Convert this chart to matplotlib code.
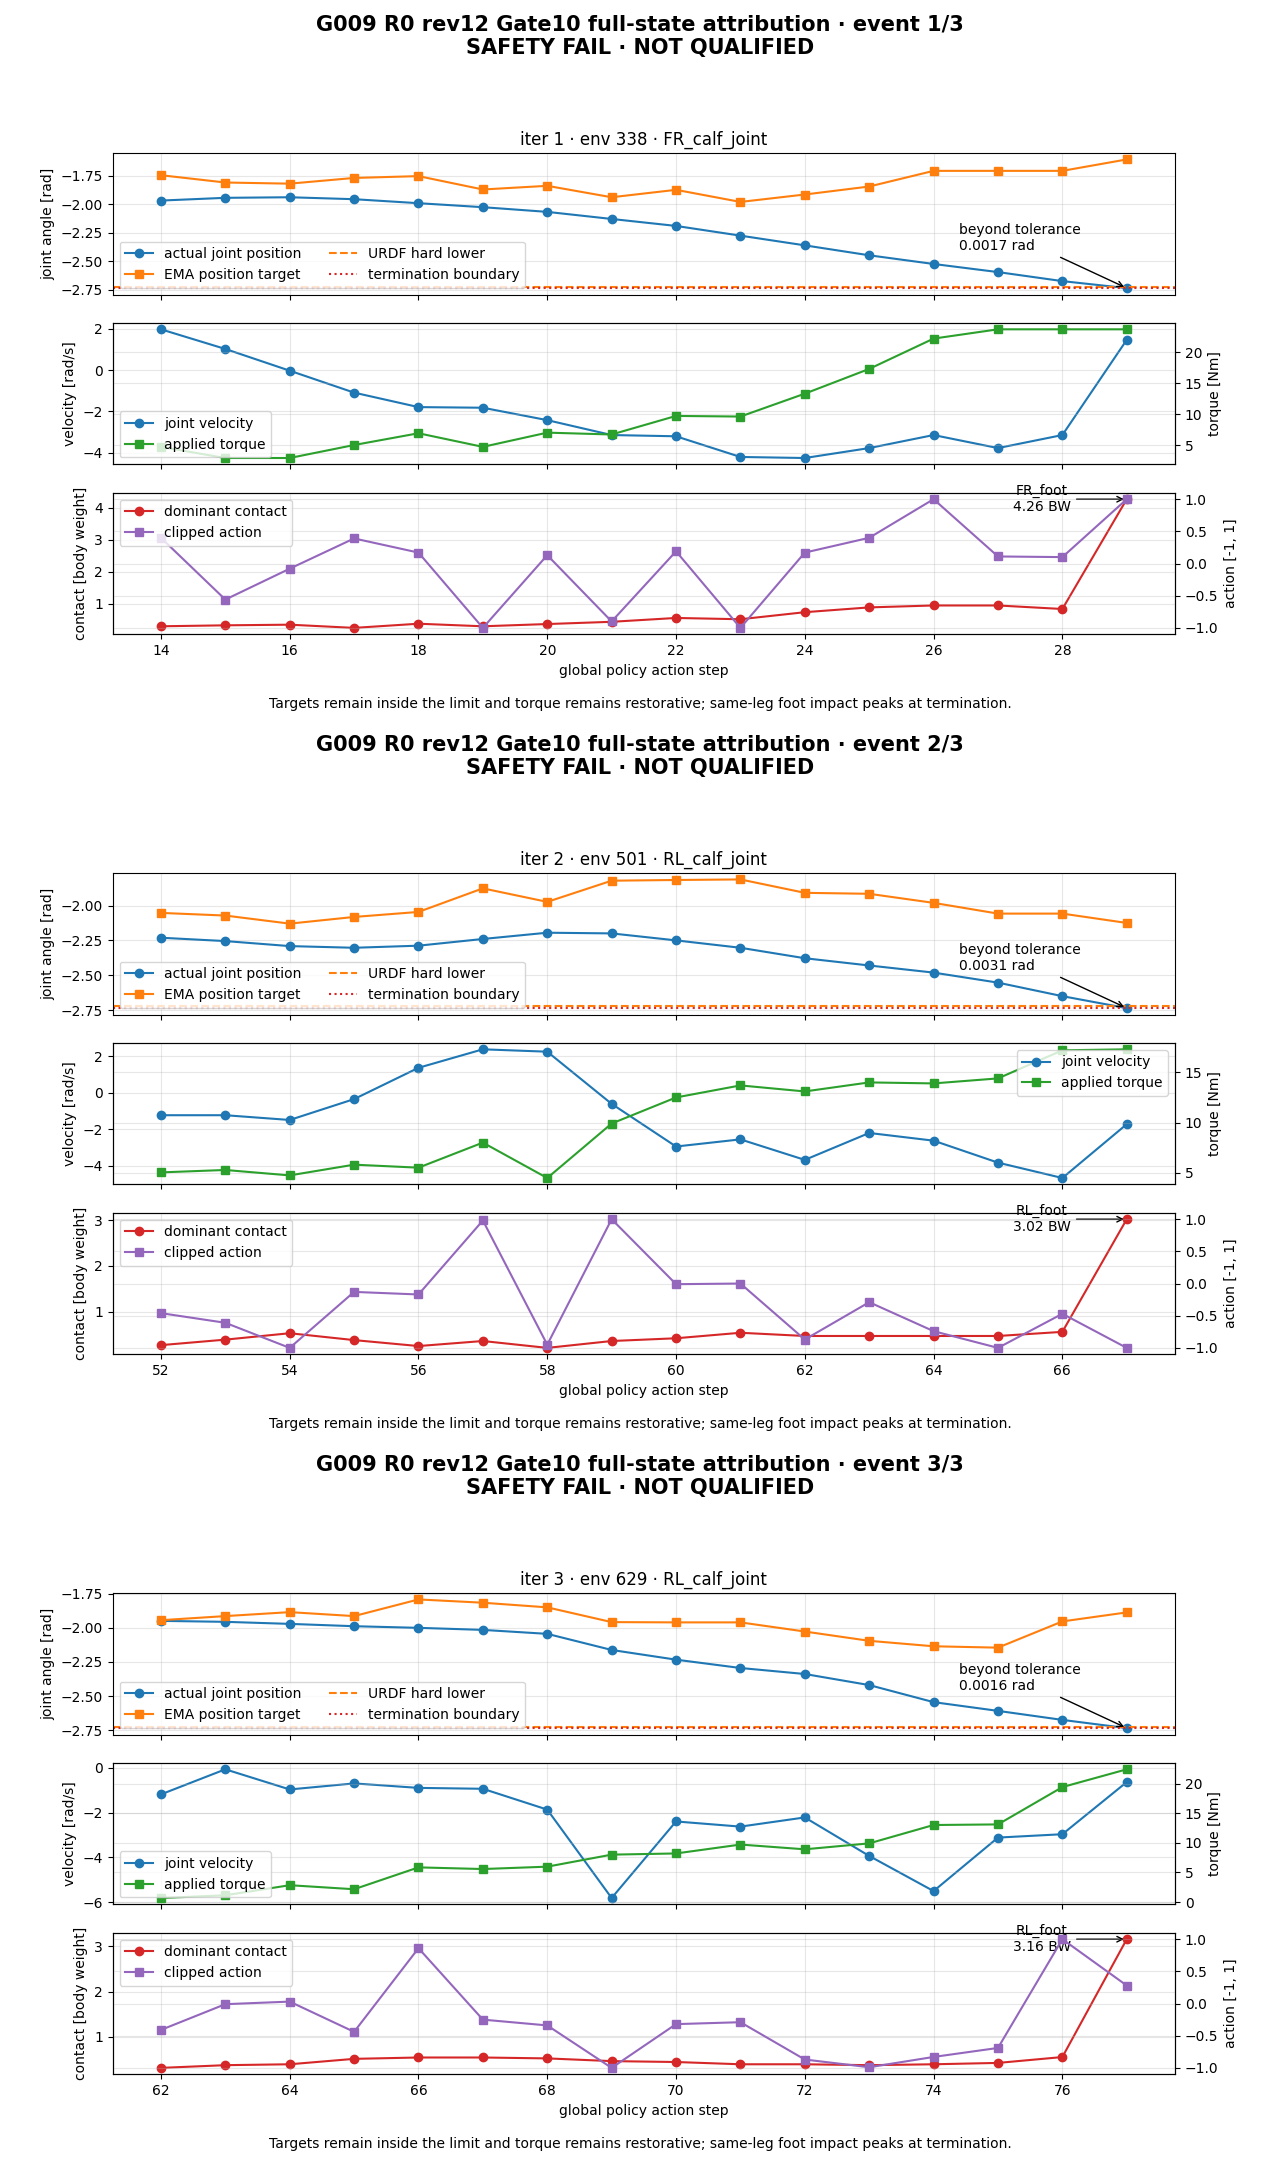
import numpy as np
import matplotlib
matplotlib.use("Agg")
import matplotlib.pyplot as plt

# event metadata
event_ids = ["1/3", "2/3", "3/3"]
iters = [1, 2, 3]
envs = [338, 501, 629]
joints = ["FR_calf_joint", "RL_calf_joint", "RL_calf_joint"]
feet = ["FR_foot", "RL_foot", "RL_foot"]
beyond = [0.0017, 0.0031, 0.0016]
steps_start = [14, 52, 62]

urdf_lower = -2.7227
term_boundary = -2.7327

# event 1
pos1 = [-1.968, -1.944, -1.939, -1.956, -1.991, -2.026, -2.067, -2.129, -2.190, -2.275, -2.360, -2.447, -2.523, -2.594, -2.673, -2.7344]
tgt1 = [-1.746, -1.810, -1.820, -1.770, -1.754, -1.871, -1.839, -1.939, -1.874, -1.980, -1.915, -1.845, -1.708, -1.708, -1.708, -1.608]
vel1 = [1.97, 1.02, -0.03, -1.09, -1.79, -1.82, -2.42, -3.14, -3.20, -4.20, -4.25, -3.77, -3.14, -3.77, -3.14, 1.46]
tau1 = [4.7, 2.9, 2.9, 5.0, 6.9, 4.7, 7.0, 6.7, 9.7, 9.6, 13.3, 17.3, 22.2, 23.7, 23.7, 23.7]
contact1 = [0.29, 0.32, 0.34, 0.24, 0.37, 0.29, 0.36, 0.43, 0.55, 0.51, 0.73, 0.88, 0.94, 0.94, 0.83, 4.26]
act1 = [0.40, -0.56, -0.08, 0.39, 0.17, -1.0, 0.13, -0.90, 0.19, -1.0, 0.17, 0.40, 1.0, 0.11, 0.10, 1.0]

# event 2
pos2 = [-2.231, -2.255, -2.291, -2.303, -2.288, -2.240, -2.195, -2.200, -2.250, -2.303, -2.378, -2.430, -2.481, -2.553, -2.650, -2.7358]
tgt2 = [-2.053, -2.072, -2.130, -2.082, -2.046, -1.877, -1.974, -1.822, -1.817, -1.813, -1.909, -1.916, -1.981, -2.058, -2.058, -2.125]
vel2 = [-1.23, -1.23, -1.49, -0.35, 1.36, 2.37, 2.24, -0.61, -2.94, -2.55, -3.67, -2.20, -2.62, -3.82, -4.66, -1.72]
tau2 = [5.03, 5.27, 4.73, 5.8, 5.5, 8.0, 4.47, 9.9, 12.5, 13.7, 13.1, 14.0, 13.9, 14.4, 17.2, 17.3]
contact2 = [0.27, 0.39, 0.53, 0.38, 0.25, 0.36, 0.21, 0.36, 0.42, 0.54, 0.47, 0.47, 0.47, 0.47, 0.56, 3.02]
act2 = [-0.46, -0.61, -1.0, -0.13, -0.17, 0.98, -0.95, 1.0, -0.01, 0.0, -0.87, -0.29, -0.74, -1.0, -0.47, -1.0]

# event 3
pos3 = [-1.949, -1.956, -1.971, -1.988, -2.000, -2.015, -2.044, -2.162, -2.233, -2.294, -2.338, -2.419, -2.544, -2.608, -2.674, -2.7343]
tgt3 = [-1.944, -1.914, -1.885, -1.914, -1.792, -1.816, -1.850, -1.958, -1.960, -1.960, -2.027, -2.095, -2.135, -2.145, -1.953, -1.887]
vel3 = [-1.19, -0.07, -0.97, -0.70, -0.90, -0.94, -1.87, -5.82, -2.40, -2.63, -2.22, -3.94, -5.51, -3.12, -2.97, -0.64]
tau3 = [0.68, 1.14, 2.84, 2.16, 5.85, 5.57, 5.97, 8.0, 8.2, 9.7, 8.9, 9.9, 13.0, 13.1, 19.4, 22.4]
contact3 = [0.31, 0.37, 0.39, 0.51, 0.54, 0.54, 0.52, 0.46, 0.44, 0.39, 0.39, 0.37, 0.39, 0.42, 0.55, 3.16]
act3 = [-0.41, -0.01, 0.03, -0.44, 0.86, -0.25, -0.34, -1.0, -0.32, -0.29, -0.87, -0.99, -0.83, -0.69, 1.0, 0.28]

positions = [pos1, pos2, pos3]
targets = [tgt1, tgt2, tgt3]
velocities = [vel1, vel2, vel3]
torques = [tau1, tau2, tau3]
contacts = [contact1, contact2, contact3]
actions = [act1, act2, act3]
vel_legend_loc = ["lower left", "upper right", "lower left"]

footnote = ("Targets remain inside the limit and torque remains restorative; "
            "same-leg foot impact peaks at termination.")

fig = plt.figure(figsize=(12.8, 21.6), dpi=100)
subfigs = fig.subfigures(3, 1)

for i, sf in enumerate(subfigs):
    steps = np.arange(steps_start[i], steps_start[i] + len(positions[i]))
    axs = sf.subplots(3, 1, sharex=True)
    sf.subplots_adjust(left=0.088, right=0.918, top=0.7875, bottom=0.119, hspace=0.2)
    sf.suptitle("G009 R0 rev12 Gate10 full-state attribution · event %s\nSAFETY FAIL · NOT QUALIFIED"
                % event_ids[i], fontsize=15, fontweight="bold")

    # joint angle
    ax = axs[0]
    ax.plot(steps, positions[i], marker="o", color="tab:blue", label="actual joint position")
    ax.plot(steps, targets[i], marker="s", color="tab:orange", label="EMA position target")
    ax.axhline(urdf_lower, color="tab:orange", linestyle="--", label="URDF hard lower")
    ax.axhline(term_boundary, color="tab:red", linestyle=":", label="termination boundary")
    ax.set_ylabel("joint angle [rad]")
    ax.set_title("iter %d · env %d · %s" % (iters[i], envs[i], joints[i]))
    ax.grid(alpha=0.3)
    ax.legend(loc="lower left", ncol=2)
    ax.annotate("beyond tolerance\n%.4f rad" % beyond[i], xy=(steps[-1], positions[i][-1]),
                xytext=(-121, 25), textcoords="offset points", ha="left", va="bottom",
                fontsize=10, arrowprops=dict(arrowstyle="->", color="black"))

    # velocity / torque
    ax = axs[1]
    ax2 = ax.twinx()
    l1, = ax.plot(steps, velocities[i], marker="o", color="tab:blue", label="joint velocity")
    l2, = ax2.plot(steps, torques[i], marker="s", color="tab:green", label="applied torque")
    ax.set_ylabel("velocity [rad/s]")
    ax2.set_ylabel("torque [Nm]")
    ax.grid(alpha=0.3)
    ax2.grid(alpha=0.3)
    ax2.legend([l1, l2], [l1.get_label(), l2.get_label()], loc=vel_legend_loc[i])

    # contact / action
    ax = axs[2]
    ax3 = ax.twinx()
    l3, = ax.plot(steps, contacts[i], marker="o", color="tab:red", label="dominant contact")
    l4, = ax3.plot(steps, actions[i], marker="s", color="tab:purple", label="clipped action")
    ax.set_ylabel("contact [body weight]")
    ax3.set_ylabel("action [-1, 1]")
    ax.set_xlabel("global policy action step")
    ax.grid(alpha=0.3)
    ax3.grid(alpha=0.3)
    ax3.legend([l3, l4], [l3.get_label(), l4.get_label()], loc="upper left")
    ax.annotate("%s\n%.2f BW" % (feet[i], contacts[i][-1]), xy=(steps[-1], contacts[i][-1]),
                xytext=(-61, 0), textcoords="offset points", ha="center", va="center",
                fontsize=10, arrowprops=dict(arrowstyle="->", color="black"))

    sf.text(0.5, 0.022, footnote, ha="center", va="center", fontsize=10)

fig.savefig("out.png", dpi=100)
